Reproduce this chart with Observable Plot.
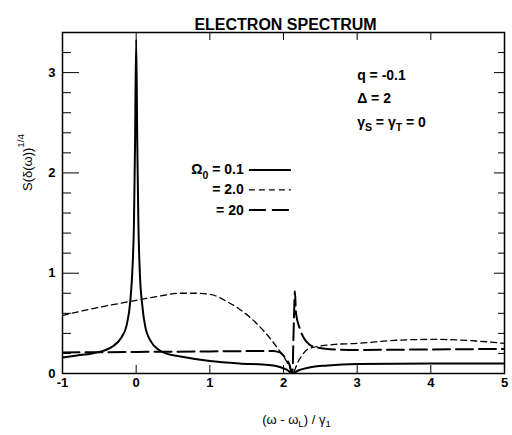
<!DOCTYPE html>
<html><head><meta charset="utf-8">
<script src="https://cdn.jsdelivr.net/npm/d3@7"></script>
<script src="https://cdn.jsdelivr.net/npm/@observablehq/plot@0.6"></script>
<style>body{margin:0;background:#fff}</style>
</head><body><div id="chart"></div>
<script>
// ---- data ----
const solidX = [-1, -0.8, -0.6, -0.45, -0.3, -0.2, -0.13, -0.08, -0.05, -0.03, -0.015, 0, 0.015, 0.03, 0.05, 0.08, 0.12, 0.2, 0.3, 0.4, 0.6, 0.8, 1.0, 1.4, 1.8, 1.95, 2.05, 2.12, 2.2, 2.35, 2.6, 3.0, 4.0, 5.0];
const solidY = [0.16, 0.18, 0.20, 0.225, 0.28, 0.36, 0.48, 0.72, 1.05, 1.5, 2.3, 3.33, 2.3, 1.5, 1.0, 0.70, 0.48, 0.32, 0.24, 0.20, 0.17, 0.145, 0.125, 0.10, 0.085, 0.065, 0.035, 0.0, 0.03, 0.06, 0.08, 0.095, 0.10, 0.10];

const shortX = [-1, -0.5, 0, 0.3, 0.6, 0.8, 1.0, 1.25, 1.48, 1.66, 1.84, 1.97, 2.08, 2.12, 2.2, 2.35, 2.7, 3.0, 3.5, 4.0, 4.5, 5.0];
const shortY = [0.58, 0.66, 0.73, 0.77, 0.80, 0.80, 0.79, 0.71, 0.60, 0.48, 0.33, 0.20, 0.07, 0.0, 0.12, 0.25, 0.29, 0.30, 0.33, 0.34, 0.33, 0.30];

const longX = [-1, 0, 1, 1.85, 1.95, 2.03, 2.08, 2.12, 2.14, 2.155, 2.17, 2.22, 2.28, 2.35, 2.45, 2.7, 3.0, 4.0, 5.0];
const longY = [0.21, 0.215, 0.22, 0.225, 0.21, 0.15, 0.09, 0.0, 0.5, 0.82, 0.6, 0.45, 0.35, 0.29, 0.26, 0.24, 0.235, 0.24, 0.245];

const xTicks = [-1, 0, 1, 2, 3, 4, 5];
const yMajor = [0, 1, 2, 3];
const yMinor = [0.2, 0.4, 0.6, 0.8, 1.2, 1.4, 1.6, 1.8, 2.2, 2.4, 2.6, 2.8, 3.2];

const titleText = "ELECTRON SPECTRUM";
const xLabel = "(ω - ω_{L}) / γ_{1}";
const yLabel = "S(δ(ω))^{1/4}";

const annotText = ["q = -0.1", "Δ = 2", "γ_{S} = γ_{T} = 0"];
const annotX = [3.0, 3.0, 3.0];
const annotY = [2.97, 2.74, 2.50];

const legendText = ["Ω_{0} = 0.1", "= 2.0", "= 20"];
const legendY = [2.03, 1.83, 1.63];
const legendTextX = 1.46;
const legendLineX1 = 1.53, legendLineX2 = 2.10;

// ---- layout ----
const W = 512, H = 435, mT = 32, mB = 62, mL = 62, mR = 8;
const innerW = W - mL - mR, innerH = H - mT - mB;
const font = "'Liberation Sans', Arial, Helvetica, sans-serif";

const series = [
  {x: solidX, y: solidY, strokeWidth: 2, dash: null},
  {x: shortX, y: shortY, strokeWidth: 1.3, dash: "6,4"},
  {x: longX, y: longY, strokeWidth: 2, dash: "17,6"}
];

const marks = [];
marks.push(Plot.frame({stroke: "black", strokeWidth: 1.5}));
// ticks (inward)
marks.push(Plot.tickX(xTicks, {x: d => d, insetTop: innerH - 8, stroke: "black", strokeWidth: 1}));
marks.push(Plot.tickX(xTicks, {x: d => d, insetBottom: innerH - 8, stroke: "black", strokeWidth: 1}));
marks.push(Plot.tickY(yMajor, {y: d => d, insetRight: innerW - 17, stroke: "black", strokeWidth: 1}));
marks.push(Plot.tickY(yMinor, {y: d => d, insetRight: innerW - 9, stroke: "black", strokeWidth: 1}));
marks.push(Plot.tickY(yMajor, {y: d => d, insetLeft: innerW - 10, stroke: "black", strokeWidth: 1}));
marks.push(Plot.tickY(yMinor, {y: d => d, insetLeft: innerW - 6, stroke: "black", strokeWidth: 1}));

// curves
series.forEach((s, i) => {
  const rows = s.x.map((x, j) => ({x, y: s.y[j]}));
  marks.push(Plot.line(rows, {x: "x", y: "y", stroke: "black", strokeWidth: s.strokeWidth,
    strokeDasharray: s.dash, curve: "monotone-x", clip: true}));
  // legend line
  marks.push(Plot.link([legendY[i]], {x1: () => legendLineX1, x2: () => legendLineX2, y1: d => d, y2: d => d,
    stroke: "black", strokeWidth: s.strokeWidth, strokeDasharray: s.dash}));
});

// tick labels
marks.push(Plot.text(xTicks, {x: d => d, text: d => String(d), frameAnchor: "bottom", dy: 13,
  fontSize: 13, fontWeight: "bold", fill: "black"}));
marks.push(Plot.text(yMajor, {y: d => d, text: d => String(d), frameAnchor: "left", dx: -7,
  textAnchor: "end", fontSize: 13, fontWeight: "bold", fill: "black"}));

// title & axis labels
marks.push(Plot.text([titleText], {frameAnchor: "top", dx: 2, dy: -14, fontSize: 16, fontWeight: "bold", fill: "black"}));
marks.push(Plot.text([xLabel], {frameAnchor: "bottom", dx: 13, dy: 50, fontSize: 13, fill: "black"}));
marks.push(Plot.text([yLabel], {frameAnchor: "left", dx: -35, dy: -12, rotate: -90, fontSize: 13, fill: "black"}));

// annotations
marks.push(Plot.text(annotText, {x: (d, i) => annotX[i], y: (d, i) => annotY[i], text: d => d,
  textAnchor: "start", fontSize: 14, fontWeight: "bold", fill: "black"}));
// legend labels
marks.push(Plot.text(legendText, {x: () => legendTextX, y: (d, i) => legendY[i], text: d => d,
  textAnchor: "end", fontSize: 14, fontWeight: "bold", fill: "black"}));

const chart = Plot.plot({
  width: W, height: H,
  marginTop: mT, marginBottom: mB, marginLeft: mL, marginRight: mR,
  x: {domain: [-1, 5], axis: null},
  y: {domain: [0, 3.4], axis: null},
  style: {fontFamily: font, background: "white", color: "black", overflow: "visible"},
  marks
});
document.getElementById("chart").appendChild(chart);

// rich text: _{..} subscript, ^{..} superscript
const ns = "http://www.w3.org/2000/svg";
d3.select(chart).selectAll("text").each(function() {
  const el = this;
  const s = el.textContent;
  if (!/[_^]\{/.test(s)) return;
  while (el.firstChild) el.removeChild(el.firstChild);
  const re = /([_^])\{([^}]*)\}/g;
  let last = 0, m, pending = 0;
  const add = (txt, dy, small) => {
    const t = document.createElementNS(ns, "tspan");
    t.textContent = txt;
    if (dy) t.setAttribute("dy", dy + "em");
    if (small) t.setAttribute("font-size", "75%");
    el.appendChild(t);
  };
  while ((m = re.exec(s))) {
    if (m.index > last) { add(s.slice(last, m.index), pending ? -pending : 0, false); pending = 0; }
    const isSub = m[1] === "_";
    const shiftSmall = isSub ? 0.4 : -0.75; // in small em
    add(m[2], shiftSmall - (pending ? pending / 0.75 : 0), true);
    pending = shiftSmall * 0.75;
    last = re.lastIndex;
  }
  if (last < s.length) add(s.slice(last), pending ? -pending : 0, false);
});
</script></body></html>
